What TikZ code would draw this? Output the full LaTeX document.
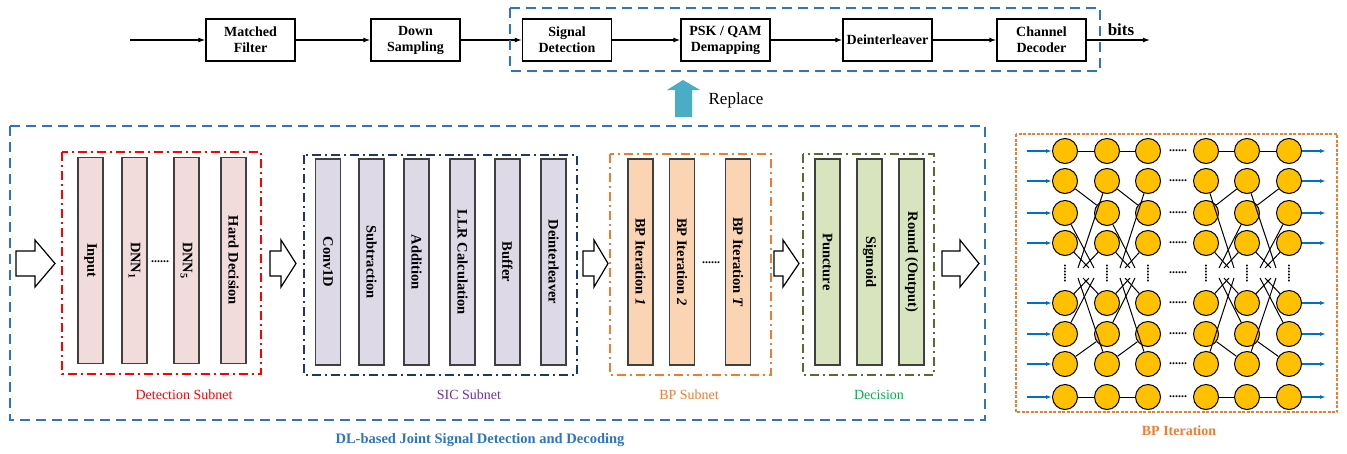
\documentclass[tikz,border=0pt]{standalone}
\usepackage{fontspec}
\setmainfont{Liberation Serif}
\usetikzlibrary{arrows.meta,calc}

\definecolor{dlblue}{RGB}{46,117,190}
\definecolor{sicnavy}{RGB}{31,56,100}
\definecolor{bporange}{RGB}{237,125,49}
\definecolor{decolive}{RGB}{84,110,50}
\definecolor{sicpurple}{RGB}{112,48,160}
\definecolor{decgreen}{RGB}{0,176,80}
\definecolor{detfill}{RGB}{242,220,219}
\definecolor{sicfill}{RGB}{221,217,230}
\definecolor{bpfill}{RGB}{251,212,180}
\definecolor{decfill}{RGB}{215,228,189}
\definecolor{bargray}{RGB}{64,64,64}
\definecolor{replteal}{RGB}{75,172,198}
\definecolor{nodeyellow}{RGB}{255,192,0}
\definecolor{arrblue}{RGB}{0,112,192}

\begin{document}
\begin{tikzpicture}[x=1pt,y=-1pt,
	blk/.style={draw, line width=1.4pt, minimum width=89pt, minimum height=42pt, inner sep=1pt, align=center, font=\bfseries\fontsize{14}{16}\selectfont},
	flow/.style={-{Latex[length=7pt,width=5pt]}, line width=1.3pt},
	bar/.style={draw=bargray, line width=1.1pt, rotate=-90, minimum width=206pt, minimum height=25pt, inner sep=0pt, font=\bfseries\fontsize{14.5}{16}\selectfont},
	dlbox/.style={draw=dlblue, line width=1.6pt, dash pattern=on 10pt off 6pt},
	subbox/.style={line width=2.2pt, dash pattern=on 9pt off 4pt on 2pt off 4pt},
	sublabel/.style={font=\fontsize{14}{16}\selectfont},
	hollow/.style={draw, fill=white, line width=1.2pt},
	bpnode/.style={circle, draw, fill=nodeyellow, line width=1pt, minimum size=25pt, inner sep=0pt},
	wire/.style={line width=1pt},
	bluearr/.style={-{Latex[length=6pt,width=4pt]}, draw=arrblue, line width=1.2pt},
	dots/.style={inner sep=0pt, font=\bfseries\fontsize{12}{12}\selectfont}
]
	\useasboundingbox (0,0) rectangle (1347,453);

	%Receiver chain
	\coordinate (in) at (130,40);
	\coordinate (out) at (1150,40);
	\node[blk] (mf) at (250.5,40) {Matched\\Filter};
	\node[blk] (ds) at (415.5,40) {Down\\Sampling};
	\node[blk] (sd) at (567,40) {Signal\\Detection};
	\node[blk] (dm) at (725.5,40) {PSK / QAM\\Demapping};
	\node[blk] (di) at (887.5,40) {Deinterleaver};
	\node[blk] (cd) at (1041.5,40) {Channel\\Decoder};
	\node[font=\bfseries\fontsize{17}{20}\selectfont] (bits) at (1121,30) {bits};

	\draw[flow] (in) -- (mf);
	\draw[flow] (mf) -- (ds);
	\draw[flow] (ds) -- (sd);
	\draw[flow] (sd) -- (dm);
	\draw[flow] (dm) -- (di);
	\draw[flow] (di) -- (cd);
	\draw[flow] (cd) -- (out);

	\draw[dlbox] (510,8) rectangle (1100,71);

	%Replace arrow
	\fill[replteal] (675,117) -- (675,90) -- (667,90) -- (683,80) -- (700,90) -- (692,90) -- (692,117) -- cycle;
	\node[font=\fontsize{17}{20}\selectfont] (repl) at (736,100) {Replace};

	%DL-based receiver
	\draw[dlbox] (10,126) rectangle (985,420);
	\node[font=\bfseries\fontsize{14.5}{16}\selectfont, text=dlblue] (dllabel) at (480,440) {DL-based Joint Signal Detection and Decoding};

	\foreach \xa/\xb/\xc in {16/35/55, 270/281/296, 583/594/608, 774/783/799, 942/960/979}
		\draw[hollow] (\xa,251) -- (\xb,251) -- (\xb,240) -- (\xc,263.5) -- (\xb,287) -- (\xb,276) -- (\xa,276) -- cycle;

	% detection subnet
	\draw[subbox, draw=red] (62,152) rectangle (261,374);
	\node[bar, fill=detfill] (inp) at (90.5,260.5) {Input};
	\node[bar, fill=detfill] (dnna) at (134.5,260.5) {DNN\textsubscript{1}};
	\node[bar, fill=detfill] (dnnb) at (186.5,260.5) {DNN\textsubscript{5}};
	\node[bar, fill=detfill] (hdec) at (233.5,260.5) {Hard Decision};
	\node[dots] (ddet) at (160,262) {......};
	\node[sublabel, text=red] (detlabel) at (184,395) {Detection Subnet};

	% SIC subnet
	\draw[subbox, draw=sicnavy] (304,155) rectangle (577,375);
	\node[bar, fill=sicfill] (conv) at (328,262) {Conv1D};
	\node[bar, fill=sicfill] (subt) at (371.5,262) {Subtraction};
	\node[bar, fill=sicfill] (addi) at (416.5,262) {Addition};
	\node[bar, fill=sicfill] (llr) at (462.5,262) {LLR Calculation};
	\node[bar, fill=sicfill] (buff) at (507.5,262) {Buffer};
	\node[bar, fill=sicfill] (deil) at (553.5,262) {Deinterleaver};
	\node[sublabel, text=sicpurple] (siclabel) at (469,395) {SIC Subnet};

	% BP subnet
	\draw[subbox, draw=bporange] (610,154) rectangle (771,375);
	\node[bar, fill=bpfill] (bpa) at (640.5,262) {BP Iteration \textit{1}};
	\node[bar, fill=bpfill] (bpb) at (682,262) {BP Iteration \textit{2}};
	\node[bar, fill=bpfill] (bpt) at (738,262) {BP Iteration \textit{T}};
	\node[dots] (dbp) at (711,263) {......};
	\node[sublabel, text=bporange] (bplabel) at (689,395) {BP Subnet};

	% decision
	\draw[subbox, draw=decolive] (803,154) rectangle (934,375);
	\node[bar, fill=decfill] (punc) at (827.5,262) {Puncture};
	\node[bar, fill=decfill] (sigm) at (869.5,262) {Sigmoid};
	\node[bar, fill=decfill] (rnd) at (911.5,262) {Round (Output)};
	\node[sublabel, text=decgreen] (declabel) at (879,395) {Decision};

	%BP iteration graph
	\draw[draw=bporange, line width=2pt, dash pattern=on 3pt off 1.5pt] (1016,134) rectangle (1337,412);
	\node[font=\bfseries\fontsize{14}{16}\selectfont, text=bporange] (iterlabel) at (1179,431) {BP Iteration};

	\foreach \c/\x in {1/1065,2/1107,3/1148,4/1206,5/1247,6/1289}{
		\foreach \r/\y in {1/151,2/181,3/213,4/243,5/303,6/334,7/364,8/397}
			\node[bpnode] (n\c-\r) at (\x,\y) {};
		\node[dots, rotate=90] (v\c) at (\x,273) {......};
	}
	\foreach \y in {151,181,213,243,273,303,334,364,397}
		\node[dots] (h\y) at (1178,\y) {......};

	\coordinate (gt) at (0,268);
	\coordinate (gb) at (0,278);

	% left stages
	\foreach \a/\b in {1/2,2/3}{
		\draw[wire] (n\a-1) -- (n\b-1);
		\draw[wire] (n\a-2) -- (n\b-3);
		\draw[wire] (n\a-3) -- (n\b-1.west |- gt);
		\draw[wire] (n\a-4) -- ($(n\b-1.west |- gt)+(-5,0)$);
		\draw[wire] (n\a-1.east |- gt) -- (n\b-2);
		\draw[wire] ($(n\a-1.east |- gt)+(5,0)$) -- (n\b-4);
		\draw[wire] (n\a-8) -- (n\b-8);
		\draw[wire] (n\a-7) -- (n\b-6);
		\draw[wire] (n\a-6) -- (n\b-1.west |- gb);
		\draw[wire] (n\a-5) -- ($(n\b-1.west |- gb)+(-5,0)$);
		\draw[wire] (n\a-1.east |- gb) -- (n\b-7);
		\draw[wire] ($(n\a-1.east |- gb)+(5,0)$) -- (n\b-5);
	}
	% right stages
	\foreach \a/\b in {4/5,5/6}{
		\draw[wire] (n\a-1) -- (n\b-1);
		\draw[wire] (n\a-2) -- (n\b-1.west |- gt);
		\draw[wire] (n\a-3) -- (n\b-2);
		\draw[wire] (n\a-4) -- ($(n\b-1.west |- gt)+(-5,0)$);
		\draw[wire] (n\a-1.east |- gt) -- (n\b-3);
		\draw[wire] ($(n\a-1.east |- gt)+(5,0)$) -- (n\b-4);
		\draw[wire] (n\a-8) -- (n\b-8);
		\draw[wire] (n\a-7) -- (n\b-1.west |- gb);
		\draw[wire] (n\a-6) -- (n\b-7);
		\draw[wire] (n\a-5) -- ($(n\b-1.west |- gb)+(-5,0)$);
		\draw[wire] (n\a-1.east |- gb) -- (n\b-6);
		\draw[wire] ($(n\a-1.east |- gb)+(5,0)$) -- (n\b-5);
	}

	\foreach \r in {1,2,3,4,5,6,7,8}{
		\draw[bluearr] ([xshift=-25pt]n1-\r.west) -- (n1-\r);
		\draw[bluearr] (n6-\r) -- ([xshift=24pt]n6-\r.east);
	}
\end{tikzpicture}
\end{document}
